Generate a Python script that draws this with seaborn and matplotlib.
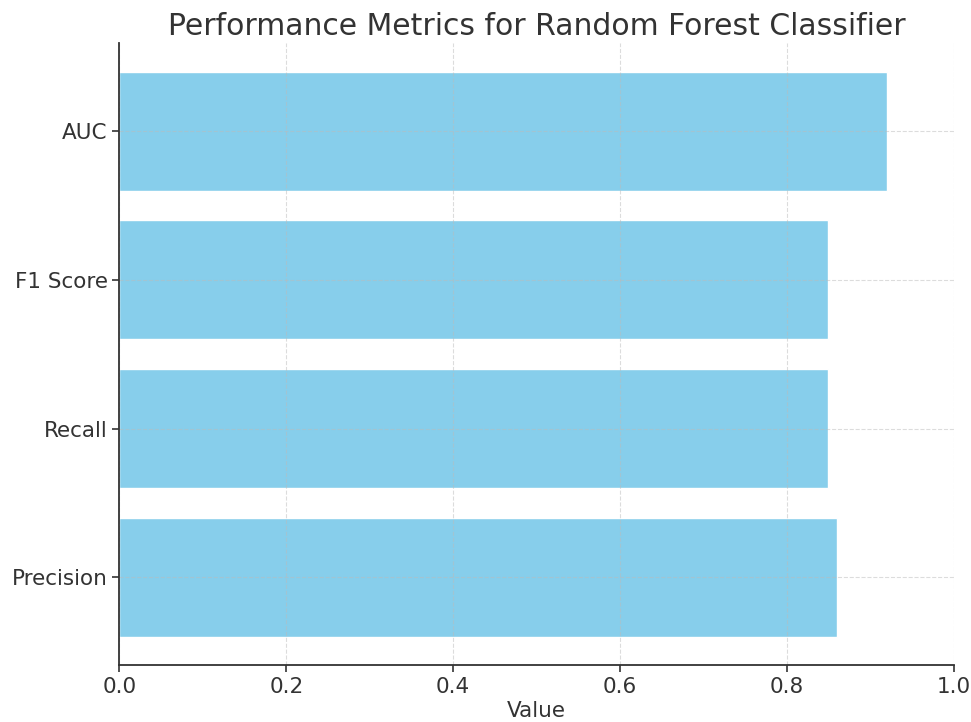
import matplotlib
matplotlib.use("Agg")
import matplotlib.pyplot as plt
import seaborn as sns
import pandas as pd

metrics = ["Precision", "Recall", "F1 Score", "AUC"]
values = [0.86, 0.85, 0.85, 0.92]

df = pd.DataFrame({"Metric": metrics, "Value": values})

sns.set_style("white")
plt.rcParams['font.family'] = ['DejaVu Sans']
plt.rcParams['text.color'] = '#333333'
plt.rcParams['axes.labelcolor'] = '#333333'
plt.rcParams['xtick.color'] = '#333333'
plt.rcParams['ytick.color'] = '#333333'

fig, ax = plt.subplots(figsize=(9.71, 7.22), dpi=100)
ax.barh(df["Metric"], df["Value"], color="skyblue", height=0.8, zorder=1)
ax.set_xlim(0, 1.0)
ax.grid(True, linestyle="--", color="#bbbbbb", alpha=0.5, linewidth=0.8, zorder=2)
ax.set_axisbelow(False)
sns.despine(ax=ax)
for s in ["left", "bottom"]:
    ax.spines[s].set_color("#333333")
    ax.spines[s].set_linewidth(1.3)
    ax.spines[s].set_zorder(5)
ax.tick_params(axis="both", labelsize=15.5, length=5, width=1.2, left=True, bottom=True)
ax.set_xlabel("Value", fontsize=15.5, labelpad=3)
ax.set_ylabel("")
ax.set_title("Performance Metrics for Random Forest Classifier", fontsize=21.5, pad=6)
plt.subplots_adjust(left=0.123, right=0.982, top=0.94, bottom=0.079)
plt.savefig("out.png", dpi=100)
